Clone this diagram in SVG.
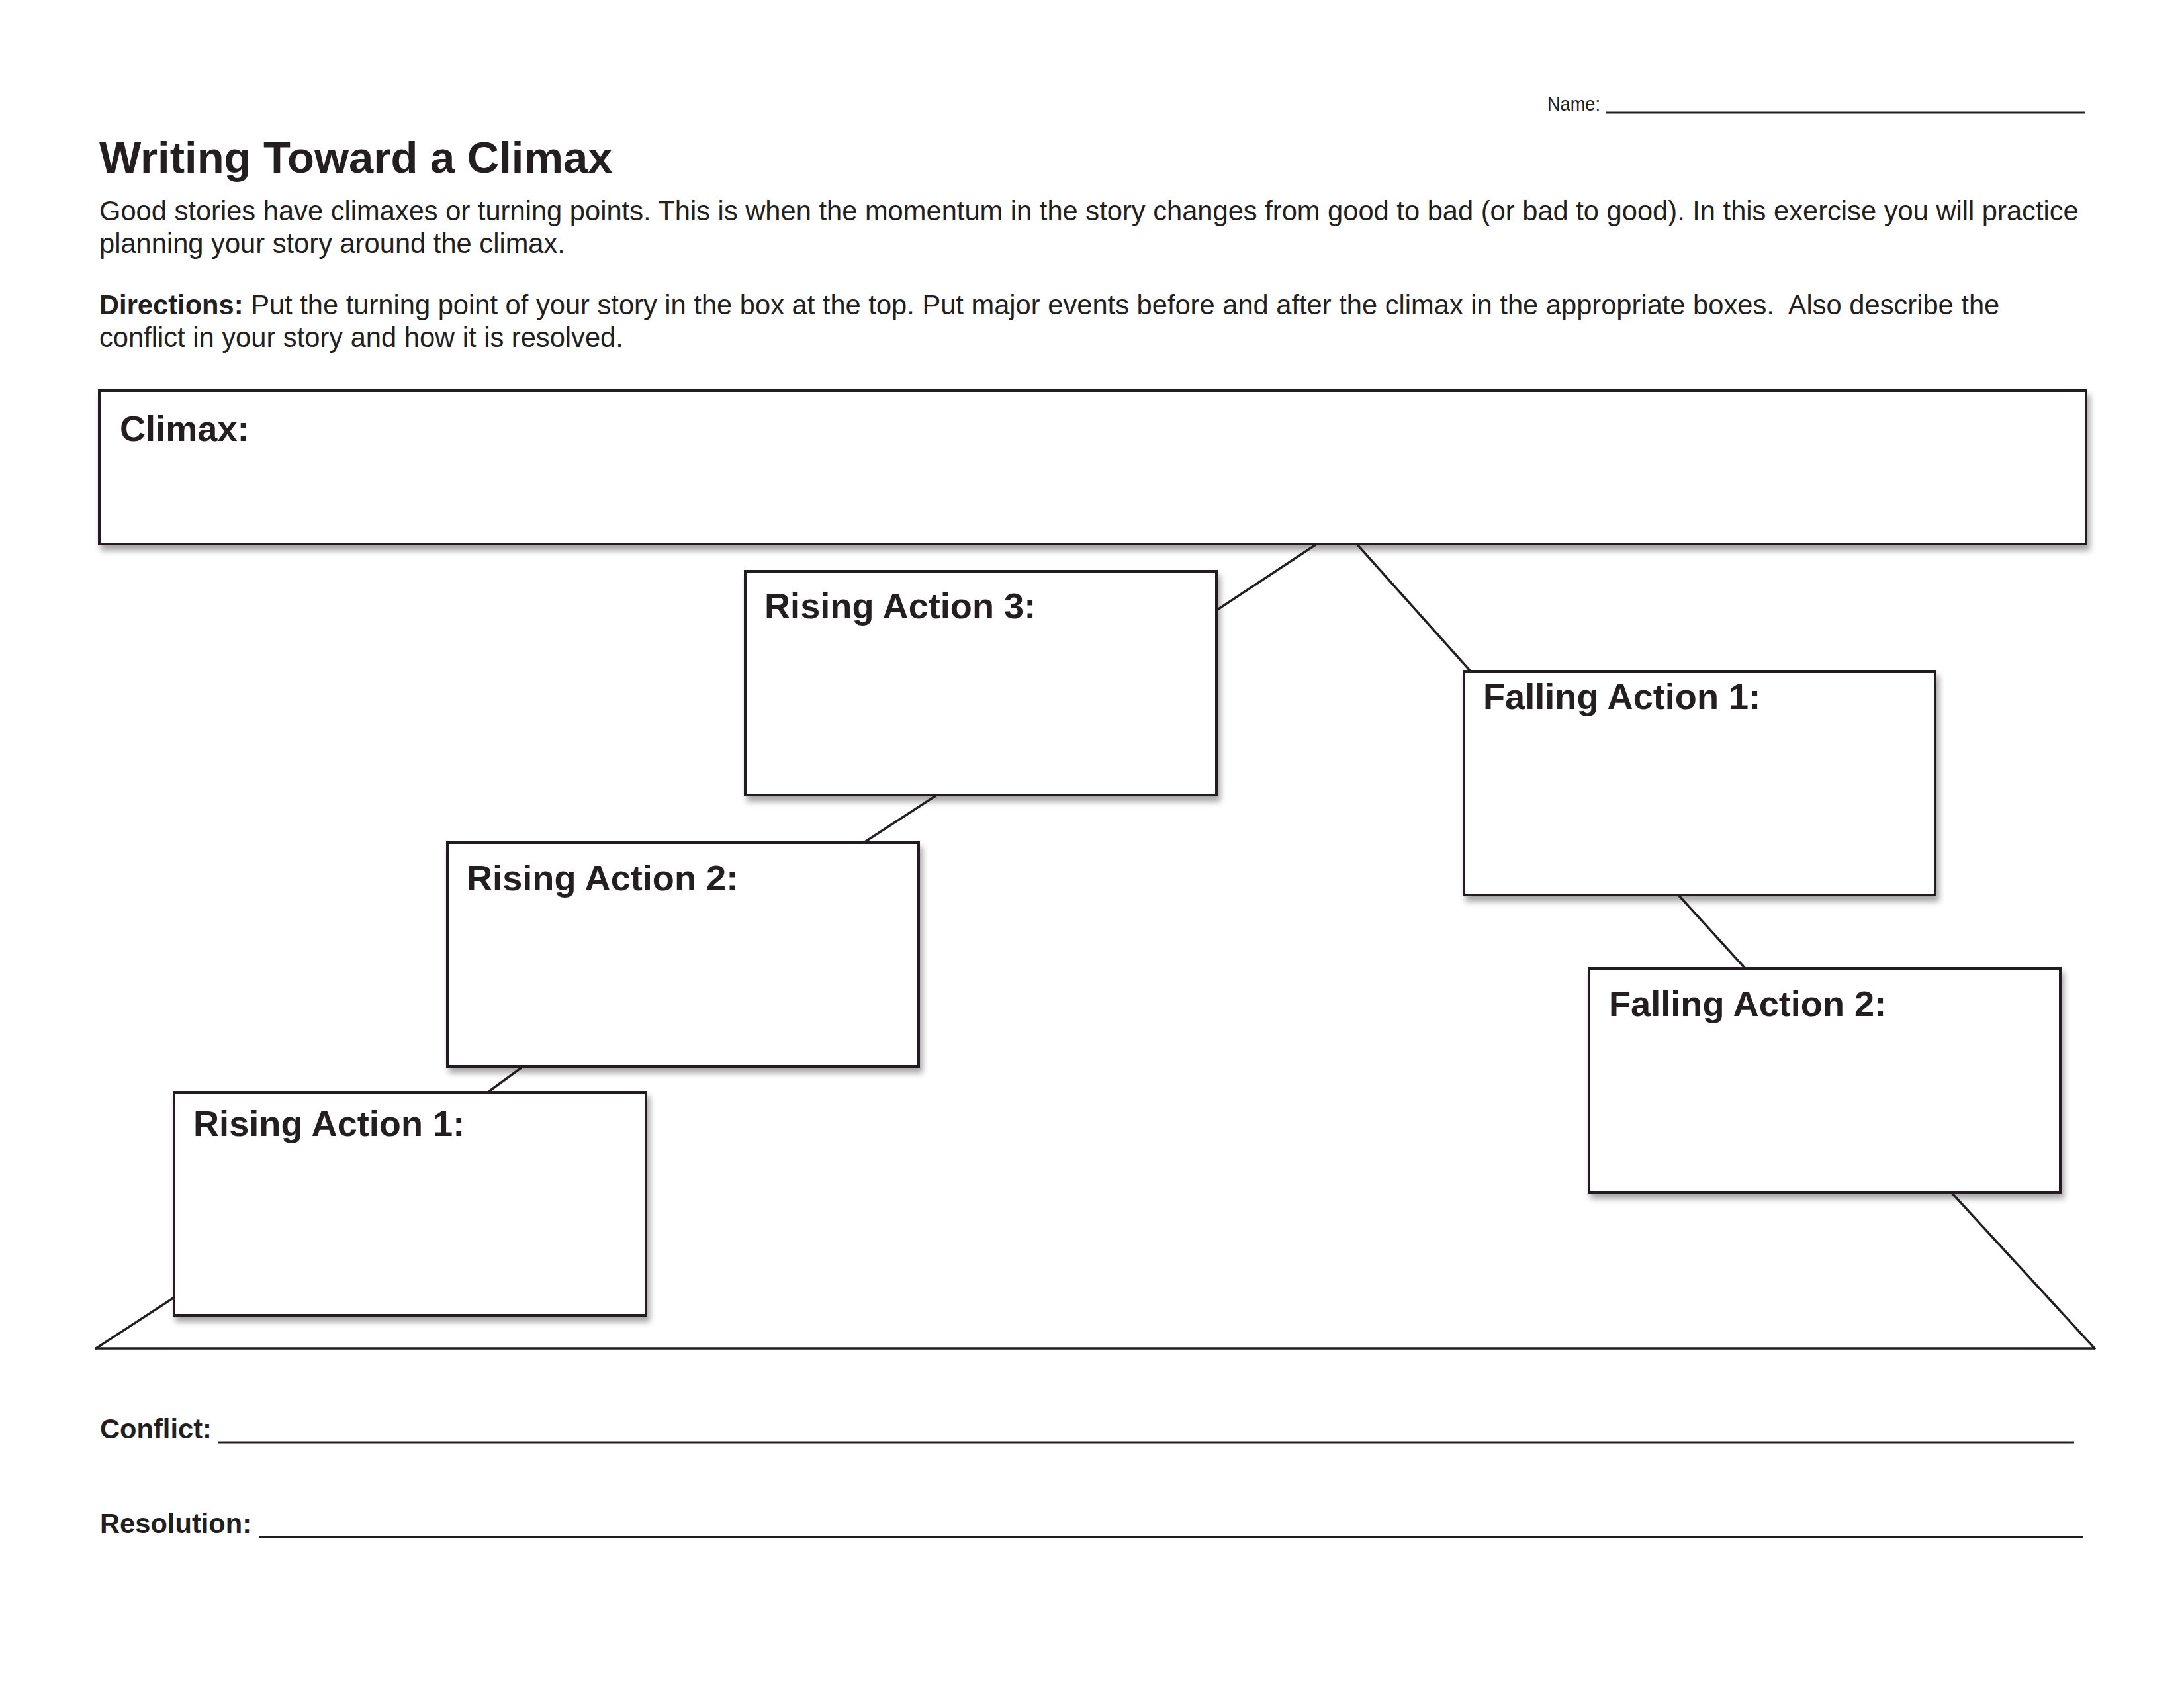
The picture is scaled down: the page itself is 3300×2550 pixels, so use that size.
<svg xmlns="http://www.w3.org/2000/svg" width="3300" height="2550" viewBox="0 0 3300 2550">
<style>
  text { font-family: "Liberation Sans", Arial, Helvetica, sans-serif; fill: #231f20; }
  .title { font-size: 67px; font-weight: bold; }
  .body { font-size: 41.67px; }
  .bold { font-weight: bold; }
  .label { font-size: 54.17px; font-weight: bold; }
  .small { font-size: 29.17px; }
  .box { fill: #ffffff; stroke: #231f20; stroke-width: 4; filter: url(#shadow); }
  .conn line { stroke: #231f20; stroke-width: 3.5; stroke-linecap: round; }
  .rule { stroke: #231f20; stroke-width: 3; }
</style>
<defs>
  <filter id="shadow" x="-5%" y="-10%" width="115%" height="130%">
    <feDropShadow dx="4" dy="8" stdDeviation="5" flood-color="#000000" flood-opacity="0.35"/>
  </filter>
</defs>
<rect x="0" y="0" width="3300" height="2550" fill="#ffffff"/>

<g id="header">
  <text class="small" x="2338" y="167" textLength="80" lengthAdjust="spacingAndGlyphs">Name:</text>
  <line class="rule" x1="2427" y1="170" x2="3150" y2="170"/>
  <text class="title" x="150" y="261">Writing Toward a Climax</text>
  <text class="body" x="150" y="333">Good stories have climaxes or turning points. This is when the momentum in the story changes from good to bad (or bad to good). In this exercise you will practice</text>
  <text class="body" x="150" y="382">planning your story around the climax.</text>
  <text class="body" x="150" y="475" style="white-space:pre"><tspan class="bold">Directions:</tspan> Put the turning point of your story in the box at the top. Put major events before and after the climax in the appropriate boxes.  Also describe the</text>
  <text class="body" x="150" y="524">conflict in your story and how it is resolved.</text>
</g>

<g id="climax">
  <rect class="box" x="150" y="590" width="3002" height="232"/>
  <text class="label" x="181" y="666">Climax:</text>
</g>
<g id="rising-action-3">
  <rect class="box" x="1126" y="863" width="712" height="338"/>
  <text class="label" x="1155" y="934">Rising Action 3:</text>
</g>
<g id="falling-action-1">
  <rect class="box" x="2212" y="1014" width="712" height="338"/>
  <text class="label" x="2241" y="1071">Falling Action 1:</text>
</g>
<g id="rising-action-2">
  <rect class="box" x="676" y="1273" width="712" height="338"/>
  <text class="label" x="705" y="1345">Rising Action 2:</text>
</g>
<g id="falling-action-2">
  <rect class="box" x="2401" y="1463" width="712" height="338"/>
  <text class="label" x="2431" y="1535">Falling Action 2:</text>
</g>
<g id="rising-action-1">
  <rect class="box" x="263" y="1650" width="713" height="337"/>
  <text class="label" x="292" y="1716">Rising Action 1:</text>
</g>

<g id="connectors" class="conn">
  <line x1="145" y1="2037" x2="3165" y2="2037"/>
  <line x1="145" y1="2037" x2="263" y2="1960"/>
  <line x1="737" y1="1650" x2="789" y2="1612"/>
  <line x1="1305" y1="1273" x2="1414" y2="1202"/>
  <line x1="1838" y1="922" x2="1988" y2="823"/>
  <line x1="2051" y1="823" x2="2222" y2="1014"/>
  <line x1="2536" y1="1352" x2="2637" y2="1463"/>
  <line x1="2949" y1="1802" x2="3165" y2="2037"/>
</g>

<g id="footer">
  <text class="body bold" x="151" y="2173">Conflict:</text>
  <line class="rule" x1="330" y1="2179" x2="3134" y2="2179"/>
  <text class="body bold" x="151" y="2316">Resolution:</text>
  <line class="rule" x1="391" y1="2322" x2="3148" y2="2322"/>
</g>
</svg>
